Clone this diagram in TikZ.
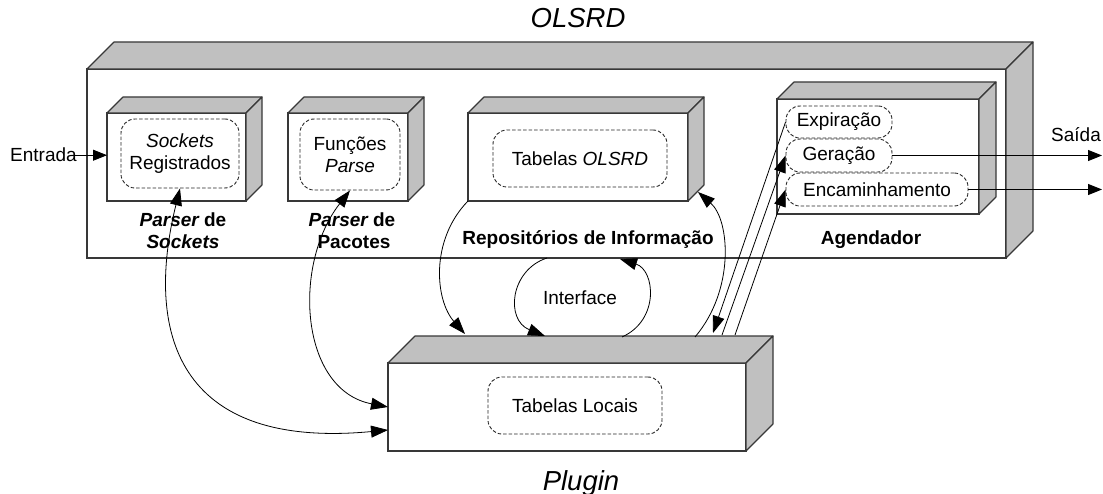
\documentclass[tikz,border=0pt]{standalone}
\usepackage{fontspec}
\setmainfont{Liberation Sans}
\usetikzlibrary{arrows.meta}
\definecolor{boxline}{HTML}{383838}
\definecolor{sidegray}{HTML}{C0C0C0}
\newcommand\dfs{\fontsize{19}{22}\selectfont}
\newcommand\tfs{\fontsize{27.5}{30}\selectfont}
\newcommand\cubefaces[2]{%
  \draw[sideface] (#1.north west) -- ++(#2,-#2) -- ([shift={(#2,-#2)}]#1.north east) -- (#1.north east) -- cycle;
  \draw[sideface] (#1.north east) -- ++(#2,-#2) -- ([shift={(#2,-#2)}]#1.south east) -- (#1.south east) -- cycle;}
\begin{document}
\begin{tikzpicture}[x=1pt,y=-1pt,
  front/.style={draw=boxline,line width=1.1pt,fill=white,rectangle,outer sep=0pt,inner sep=0pt},
  sideface/.style={draw=boxline,line width=1.1pt,fill=sidegray,line join=round},
  dashbox/.style={draw=black!85,dash pattern=on 3.5pt off 2pt,line width=0.9pt,rounded corners=14pt,align=center,inner sep=0pt,font=\dfs},
  lbl/.style={font=\dfs,inner sep=0pt,anchor=base},
  blbl/.style={font=\dfs\bfseries,inner sep=0pt,anchor=base},
  conn/.style={line width=0.8pt,draw=black},
  arr/.style={conn,-{Triangle[length=14pt,width=11pt]}},
  carr/.style={conn,-{Triangle[length=17pt,width=12pt]}},
  darr/.style={conn,{Triangle[length=17pt,width=12pt]}-{Triangle[length=17pt,width=12pt]}},
]
\useasboundingbox (0,0) rectangle (1103,494);

% outer OLSRD box
\node[front,minimum width=919pt,minimum height=189pt] (olsrd) at (546.5,163.5) {};
\cubefaces{olsrd}{27}

% inner boxes
\node[front,minimum width=139pt,minimum height=88pt] (b1) at (176.5,157) {};
\cubefaces{b1}{16}
\node[front,minimum width=120pt,minimum height=88pt] (b2) at (348,157) {};
\cubefaces{b2}{16}
\node[front,minimum width=220pt,minimum height=88pt] (b3) at (578,157) {};
\cubefaces{b3}{16}
\node[front,minimum width=202pt,minimum height=115pt] (b4) at (878,156.5) {};
\cubefaces{b4}{17}

% plugin box
\node[front,minimum width=358pt,minimum height=88pt] (plug) at (567,407) {};
\cubefaces{plug}{27}

% dashed contents
\node[dashbox,minimum width=118pt,minimum height=69pt] (sock) at (180,153.5) {{\itshape Sockets}\\Registrados};
\node[dashbox,minimum width=100pt,minimum height=71pt] (func) at (350,154.5) {Funções\\{\itshape Parse}};
\node[dashbox,minimum width=174pt,minimum height=57pt] (tabo) at (580,158.5) {Tabelas {\itshape OLSRD}};
\node[dashbox,minimum width=106pt,minimum height=32pt] (exp) at (839,122) {Expiração};
\node[dashbox,minimum width=106pt,minimum height=33pt] (ger) at (839,155.5) {Geração};
\node[dashbox,minimum width=182pt,minimum height=33pt] (enc) at (877,189.5) {Encaminhamento};
\node[dashbox,minimum width=174pt,minimum height=57pt] (tabl) at (575,405.5) {Tabelas Locais};

% labels
\node[lbl,font=\tfs\itshape] (t1) at (578,28) {OLSRD};
\node[lbl,font=\tfs\itshape] (t2) at (581,490) {Plugin};
\node[blbl] (ps1) at (183,227) {{\itshape Parser} de};
\node[blbl] (ps2) at (183,249) {\itshape Sockets};
\node[blbl] (pp1) at (352,227) {{\itshape Parser} de};
\node[blbl] (pp2) at (354,249) {Pacotes};
\node[blbl] (rep) at (588,245) {Repositórios de Informação};
\node[blbl] (age) at (871,245) {Agendador};
\node[lbl] (intf) at (580,305) {Interface};
\node[lbl,anchor=base west] (ent) at (10,162) {Entrada};
\node[lbl] (sai) at (1076,142) {Saída};

% free end points
\coordinate (o1) at (1102,0);
\coordinate (pl1) at (388,430);
\coordinate (p3) at (465,334);
\coordinate (ia) at (547,258);
\coordinate (ib) at (545,336);
\coordinate (ic) at (622,337);
\coordinate (id) at (620,259);
\coordinate (p5) at (695,337);
\coordinate (q5) at (698,192);
\coordinate (p6a) at (713,333);
\coordinate (p6b) at (722,335);
\coordinate (p6c) at (735,335);

% connectors
\draw[arr] ([xshift=-4pt]ent.east) -- (ent.east -| b1.west);
\draw[arr] (ger.east) -- (ger.east -| o1);
\draw[arr] (enc.east) -- (enc.east -| o1);
\draw[darr] (sock.south) .. controls (145,330) and (175,450) .. (pl1);
\draw[darr] (func.south) .. controls (292,265) and (300,390) .. (plug.west);
\draw[carr] (b3.south west) .. controls (430,240) and (435,300) .. (p3);
\draw[carr] (ia) .. controls (510,270) and (505,320) .. (ib);
\draw[carr] (ic) .. controls (660,320) and (655,270) .. (id);
\draw[carr] (p5) .. controls (735,290) and (730,220) .. (q5);
\draw[carr] (exp.west) -- (p6a);
\draw[carr] (p6b) -- (ger.west);
\draw[carr] (p6c) -- (enc.west);
\end{tikzpicture}
\end{document}
